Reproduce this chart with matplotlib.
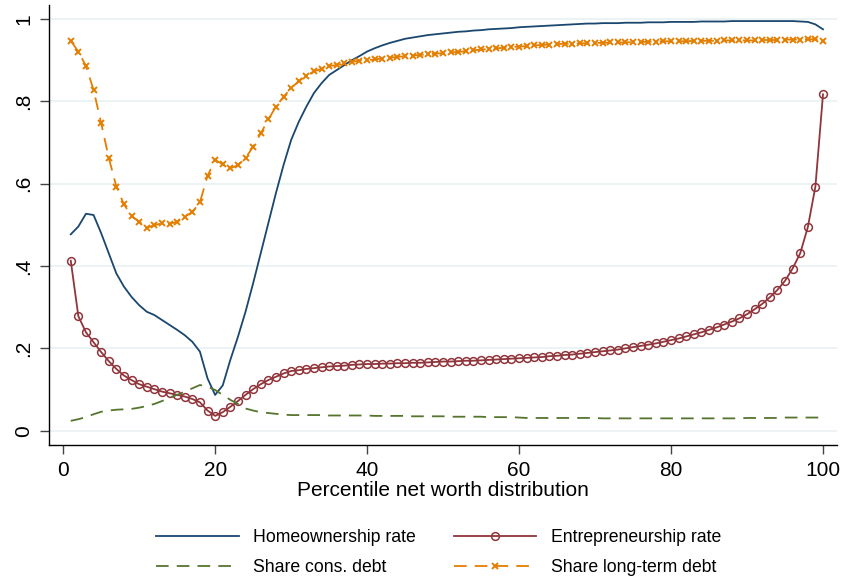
import matplotlib
matplotlib.use("Agg")
import matplotlib.pyplot as plt
import numpy as np

percentile = list(range(1, 101))

homeownership = [
    0.477, 0.496, 0.527, 0.524, 0.480, 0.431, 0.382, 0.350, 0.325, 0.305,
    0.289, 0.281, 0.269, 0.257, 0.245, 0.232, 0.216, 0.192, 0.127, 0.087,
    0.110, 0.172, 0.228, 0.289, 0.358, 0.431, 0.504, 0.577, 0.645, 0.706,
    0.750, 0.787, 0.820, 0.844, 0.864, 0.876, 0.888, 0.900, 0.910, 0.921,
    0.929, 0.936, 0.942, 0.947, 0.952, 0.955, 0.958, 0.961, 0.963, 0.965,
    0.967, 0.969, 0.970, 0.972, 0.973, 0.975, 0.976, 0.977, 0.978, 0.980,
    0.981, 0.982, 0.983, 0.984, 0.985, 0.986, 0.987, 0.988, 0.989, 0.989,
    0.990, 0.990, 0.990, 0.991, 0.991, 0.991, 0.992, 0.992, 0.992, 0.993,
    0.993, 0.993, 0.993, 0.994, 0.994, 0.994, 0.994, 0.995, 0.995, 0.995,
    0.995, 0.995, 0.995, 0.995, 0.995, 0.995, 0.994, 0.993, 0.987, 0.975,
]

entrepreneurship = [
    0.413, 0.278, 0.239, 0.215, 0.191, 0.169, 0.150, 0.134, 0.123, 0.113,
    0.107, 0.101, 0.095, 0.091, 0.087, 0.083, 0.077, 0.069, 0.049, 0.036,
    0.045, 0.058, 0.072, 0.087, 0.101, 0.113, 0.123, 0.131, 0.139, 0.145,
    0.147, 0.150, 0.152, 0.154, 0.156, 0.157, 0.158, 0.160, 0.161, 0.162,
    0.162, 0.163, 0.163, 0.164, 0.164, 0.165, 0.165, 0.166, 0.167, 0.168,
    0.168, 0.169, 0.170, 0.170, 0.171, 0.172, 0.173, 0.174, 0.175, 0.176,
    0.177, 0.178, 0.179, 0.181, 0.182, 0.184, 0.185, 0.187, 0.189, 0.191,
    0.193, 0.195, 0.197, 0.200, 0.203, 0.206, 0.209, 0.212, 0.216, 0.220,
    0.224, 0.229, 0.234, 0.239, 0.245, 0.251, 0.258, 0.265, 0.273, 0.283,
    0.295, 0.308, 0.324, 0.342, 0.364, 0.394, 0.431, 0.494, 0.593, 0.817,
]

cons_debt = [
    0.024, 0.028, 0.033, 0.040, 0.046, 0.049, 0.051, 0.052, 0.053, 0.056,
    0.060, 0.065, 0.072, 0.080, 0.087, 0.095, 0.103, 0.111, 0.107, 0.099,
    0.087, 0.075, 0.065, 0.054, 0.049, 0.045, 0.043, 0.041, 0.039, 0.038,
    0.038, 0.038, 0.038, 0.038, 0.037, 0.037, 0.037, 0.037, 0.037, 0.037,
    0.036, 0.036, 0.036, 0.036, 0.036, 0.035, 0.035, 0.035, 0.035, 0.035,
    0.034, 0.034, 0.034, 0.034, 0.034, 0.033, 0.033, 0.033, 0.033, 0.032,
    0.031, 0.031, 0.031, 0.031, 0.031, 0.031, 0.031, 0.031, 0.031, 0.031,
    0.030, 0.030, 0.030, 0.030, 0.030, 0.030, 0.030, 0.030, 0.030, 0.030,
    0.030, 0.030, 0.030, 0.030, 0.030, 0.030, 0.030, 0.030, 0.030, 0.031,
    0.031, 0.031, 0.031, 0.031, 0.032, 0.032, 0.032, 0.032, 0.032, 0.032,
]

longterm_debt = [
    0.947, 0.921, 0.886, 0.828, 0.747, 0.663, 0.593, 0.550, 0.521, 0.508,
    0.493, 0.499, 0.504, 0.503, 0.507, 0.520, 0.531, 0.555, 0.619, 0.658,
    0.647, 0.637, 0.645, 0.662, 0.690, 0.722, 0.756, 0.787, 0.811, 0.832,
    0.849, 0.862, 0.873, 0.879, 0.886, 0.888, 0.892, 0.896, 0.899, 0.900,
    0.902, 0.904, 0.906, 0.908, 0.910, 0.911, 0.913, 0.914, 0.916, 0.917,
    0.919, 0.920, 0.922, 0.924, 0.926, 0.927, 0.929, 0.930, 0.932, 0.933,
    0.934, 0.936, 0.937, 0.938, 0.939, 0.940, 0.940, 0.941, 0.941, 0.942,
    0.942, 0.943, 0.943, 0.943, 0.944, 0.944, 0.945, 0.945, 0.946, 0.946,
    0.946, 0.946, 0.947, 0.947, 0.947, 0.947, 0.948, 0.948, 0.948, 0.948,
    0.948, 0.949, 0.949, 0.949, 0.950, 0.950, 0.950, 0.951, 0.951, 0.946,
]

x_ticks = [0, 20, 40, 60, 80, 100]
y_ticks = [0, 0.2, 0.4, 0.6, 0.8, 1.0]
y_tick_labels = ["0", ".2", ".4", ".6", ".8", "1"]

labels = ["Homeownership rate", "Entrepreneurship rate",
          "Share cons. debt", "Share long-term debt"]

plt.rcParams['font.family'] = ['Liberation Sans', 'DejaVu Sans']

fig = plt.figure(figsize=(8.43, 5.84), dpi=100)
ax = fig.add_axes([0.0587, 0.2385, 0.9925 - 0.0587, 0.9914 - 0.2385])

navy = "#1a476f"
maroon = "#90353b"
green = "#55752f"
orange = "#e37e00"

lw = 1.3
h1, = ax.plot(percentile, homeownership, color=navy, lw=lw)
h2, = ax.plot(percentile, entrepreneurship, color=maroon, lw=lw,
              marker='o', ms=5.6, mfc='none', mec=maroon, mew=1.1)
h3, = ax.plot(percentile, cons_debt, color=green, lw=lw, dashes=(7, 4.5))
h4, = ax.plot(percentile, longterm_debt, color=orange, lw=lw, dashes=(7, 4.5),
              marker='x', ms=4.0, mew=1.4, mec=orange)

ax.set_xlim(-1.8, 101.8)
ax.set_ylim(-0.034, 1.034)
ax.set_xticks(x_ticks)
ax.set_xticklabels([str(t) for t in x_ticks])
ax.set_yticks(y_ticks)
ax.set_yticklabels(y_tick_labels, rotation=90, va='center')

ax.grid(axis='y', color='#eaf2f3', lw=1.3)
ax.set_axisbelow(True)
for s in ['top', 'right']:
    ax.spines[s].set_visible(False)
for s in ['left', 'bottom']:
    ax.spines[s].set_color('#000000')
    ax.spines[s].set_linewidth(1.0)

ax.tick_params(axis='both', which='major', labelsize=15, color='#444444',
               length=6.5, width=1.0)
ax.tick_params(axis='x', pad=5)
ax.tick_params(axis='y', pad=5)

ax.set_xlabel("Percentile net worth distribution", fontsize=15, labelpad=1)

leg = fig.legend([h1, h3, h2, h4], [labels[0], labels[2], labels[1], labels[3]],
                 ncol=2, loc='center', bbox_to_anchor=(0.52, 0.0536),
                 frameon=False, fontsize=12.7, handlelength=4.7,
                 handletextpad=0.8, columnspacing=2.15, labelspacing=0.71,
                 numpoints=1)

fig.savefig("out.png", dpi=100)
